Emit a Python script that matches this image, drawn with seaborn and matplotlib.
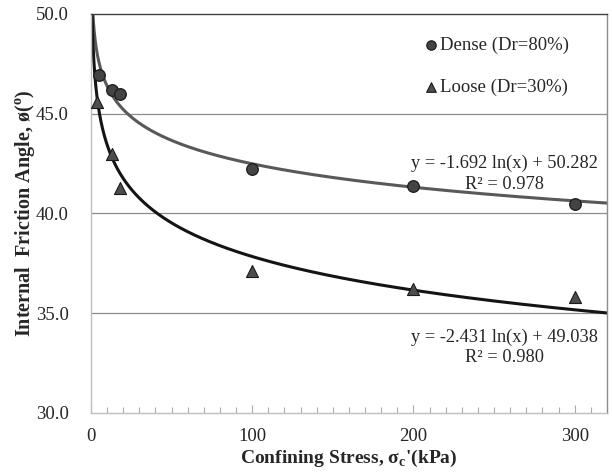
import numpy as np
import pandas as pd
import matplotlib
matplotlib.use("Agg")
import matplotlib.pyplot as plt
import seaborn as sns

# ---- data ----
dense_x = [5, 13, 18, 100, 200, 300]
dense_y = [46.95, 46.2, 45.97, 42.22, 41.4, 40.48]
loose_x = [4, 13, 18, 100, 200, 300]
loose_y = [45.6, 43.0, 41.3, 37.12, 36.22, 35.83]
# trendline coefficients y = a ln(x) + b
dense_fit = [-1.692, 50.282]
loose_fit = [-2.431, 49.038]
dense_label = "Dense (Dr=80%)"
loose_label = "Loose (Dr=30%)"
dense_eq = "y = -1.692 ln(x) + 50.282\nR² = 0.978"
loose_eq = "y = -2.431 ln(x) + 49.038\nR² = 0.980"
yticks = [30, 35, 40, 45, 50]
xticks = [0, 100, 200, 300]

sns.set_style("white")
plt.rcParams['font.family'] = ['Liberation Serif', 'DejaVu Serif']
plt.rcParams['mathtext.fontset'] = 'custom'
plt.rcParams['mathtext.rm'] = 'Liberation Serif'
plt.rcParams['mathtext.bf'] = 'Liberation Serif:bold'

fig = plt.figure(figsize=(6.12, 4.74), dpi=100)
ax = fig.add_axes([0.1487, 0.1287, 0.843, 0.8418])

xs = np.linspace(0.5, 320, 2000)
curve_d = pd.DataFrame({"x": xs, "y": dense_fit[0] * np.log(xs) + dense_fit[1]})
curve_l = pd.DataFrame({"x": xs, "y": loose_fit[0] * np.log(xs) + loose_fit[1]})

for yv in [35, 40, 45]:
    ax.axhline(yv, color="#8c8c8c", lw=0.9, zorder=0)

sns.lineplot(data=curve_d, x="x", y="y", ax=ax, color="#595959", lw=2.2, zorder=2)
sns.lineplot(data=curve_l, x="x", y="y", ax=ax, color="#141414", lw=2.2, zorder=2)

sns.scatterplot(x=dense_x, y=dense_y, ax=ax, marker="o", s=70, color="#444444",
                edgecolor="#1a1a1a", linewidth=0.9, label=dense_label, zorder=3)
sns.scatterplot(x=loose_x, y=loose_y, ax=ax, marker="^", s=75, color="#4d4d4d",
                edgecolor="#1a1a1a", linewidth=0.8, label=loose_label, zorder=3)

ax.set_xlim(0, 320)
ax.set_ylim(30, 50)
ax.set_xticks(xticks)
ax.set_xticks(np.arange(0, 321, 10), minor=True)
ax.set_yticks(yticks)
ax.set_yticklabels([f"{v:.1f}" for v in yticks])
ax.tick_params(axis="x", which="minor", direction="in", length=4, width=0.8, color="#aaaaaa", bottom=True)
ax.tick_params(axis="x", which="major", direction="in", length=6, width=0.8, color="#aaaaaa", bottom=True,
               labelsize=13.5, pad=11)
ax.tick_params(axis="y", which="major", length=0, labelsize=13.5, pad=16)

for side, col in [("left", "#bfbfbf"), ("bottom", "#bfbfbf"), ("top", "#404040"), ("right", "#8c8c8c")]:
    ax.spines[side].set_visible(True)
    ax.spines[side].set_color(col)
    ax.spines[side].set_linewidth(1.0)

ax.set_xlabel("Confining Stress, σ$_\\mathregular{c}$'(kPa)", fontsize=14, fontweight="bold", labelpad=2)
ax.set_ylabel("Internal  Friction Angle, ø($^\\mathregular{o}$)", fontsize=14.5, fontweight="bold", labelpad=-1)

ax.text(0.801, 0.60, dense_eq, transform=ax.transAxes, ha="center", va="center",
        fontsize=13.2, linespacing=1.3)
ax.text(0.801, 0.165, loose_eq, transform=ax.transAxes, ha="center", va="center",
        fontsize=13.2, linespacing=1.25)

leg = ax.legend(loc="upper right", bbox_to_anchor=(0.959, 0.985), frameon=False, fontsize=13.5,
                handletextpad=0.0, handlelength=1.0, labelspacing=1.3, markerscale=0.8)

fig.savefig("out.png", dpi=100)
